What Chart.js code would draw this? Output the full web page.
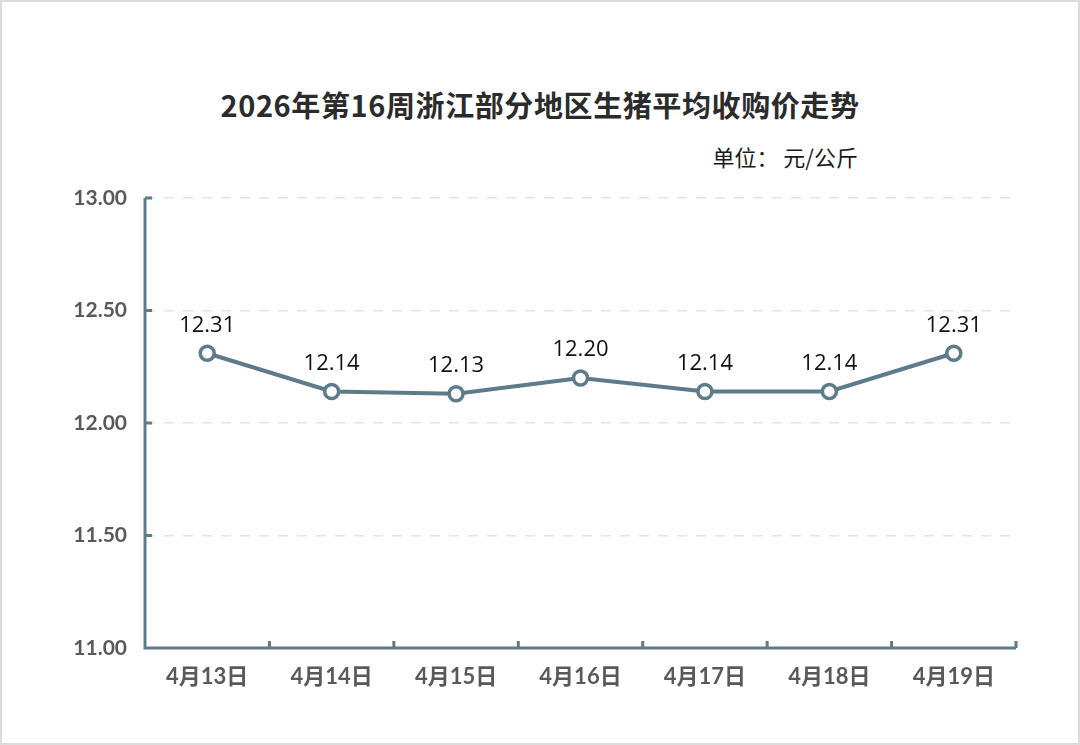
<!DOCTYPE html>
<html>
<head>
<meta charset="utf-8">
<script src="https://cdn.jsdelivr.net/npm/chart.js@4.4.1/dist/chart.umd.min.js"></script>
<style>
  html, body { margin: 0; padding: 0; background: #fff; }
  body { width: 1080px; height: 745px; position: relative; overflow: hidden; }
  .frame { position: absolute; left: 0; top: 0; width: 1076px; height: 741px; border: 2px solid #dcdcdc; }
  .title { position: absolute; left: 0; width: 1080px; top: 83px; text-align: center;
           font: bold 29px "Noto Sans CJK SC", sans-serif; color: #2b2b2b; letter-spacing: 0.6px; }
  .unit { position: absolute; right: 222px; top: 140px;
          font: 22px "Noto Sans CJK SC", sans-serif; color: #1a1a1a; }
  #wrap { position: absolute; left: 0; top: 0; width: 1080px; height: 745px; }
</style>
</head>
<body>
<div class="frame"></div>
<div class="title">2026年第16周浙江部分地区生猪平均收购价走势</div>
<div class="unit">单位：&nbsp;元/公斤</div>
<div id="wrap"><canvas id="priceChart"></canvas></div>
<script>
// 日期与价格（元/公斤）
const dayLabels = ['4月13日', '4月14日', '4月15日', '4月16日', '4月17日', '4月18日', '4月19日'];
const priceValues = [12.31, 12.14, 12.13, 12.20, 12.14, 12.14, 12.31];
const yMin = 11, yMax = 13, yStep = 0.5;

const axisColor = '#5e7b89';

// 自己画坐标轴线和朝内的刻度
const axisPlugin = {
    id: 'axisLines',
    afterDatasetsDraw(chart) {
        const { ctx, chartArea, scales } = chart;
        const x = scales.x, y = scales.y;
        const tick = 7;
        ctx.save();
        ctx.strokeStyle = axisColor;
        ctx.lineWidth = 3;
        ctx.lineCap = 'butt';
        ctx.beginPath();
        ctx.moveTo(chartArea.left, chartArea.top);
        ctx.lineTo(chartArea.left, chartArea.bottom);
        ctx.lineTo(chartArea.right, chartArea.bottom);
        // y 轴刻度
        y.ticks.forEach(t => {
            if (t.value === yMin) return;
            const py = y.getPixelForValue(t.value);
            ctx.moveTo(chartArea.left, py);
            ctx.lineTo(chartArea.left + tick, py);
        });
        // x 轴刻度（类别之间）
        const half = (x.getPixelForValue(1) - x.getPixelForValue(0)) / 2;
        for (let i = 0; i < dayLabels.length; i++) {
            const px = x.getPixelForValue(i) + half;
            ctx.moveTo(px, chartArea.bottom);
            ctx.lineTo(px, chartArea.bottom - tick);
        }
        ctx.stroke();
        ctx.restore();
    }
};

// 数据标签
const labelPlugin = {
    id: 'pointLabels',
    afterDatasetsDraw(chart) {
        const { ctx } = chart;
        const meta = chart.getDatasetMeta(0);
        ctx.save();
        ctx.font = '22px "Open Sans", "Noto Sans", sans-serif';
        ctx.fillStyle = '#111';
        ctx.textAlign = 'center';
        ctx.textBaseline = 'middle';
        meta.data.forEach((pt, i) => {
            ctx.fillText(priceValues[i].toFixed(2), pt.x, pt.y - 28);
        });
        ctx.restore();
    }
};

const ctx = document.getElementById('priceChart').getContext('2d');
new Chart(ctx, {
    type: 'line',
    data: {
        labels: dayLabels,
        datasets: [{
            data: priceValues,
            borderColor: axisColor,
            borderWidth: 4,
            pointRadius: 7,
            pointBorderWidth: 3.5,
            pointBackgroundColor: '#fff',
            pointBorderColor: axisColor,
            tension: 0,
            fill: false
        }]
    },
    options: {
        responsive: true,
        maintainAspectRatio: false,
        animation: false,
        layout: { padding: { left: 0, top: 198, right: 64, bottom: 0 } },
        plugins: {
            legend: { display: false },
            tooltip: { enabled: false }
        },
        scales: {
            x: {
                offset: true,
                grid: { display: false, drawTicks: false },
                border: { display: false },
                ticks: {
                    padding: 16,
                    color: '#595959',
                    font: { family: 'Lato, "Noto Sans CJK SC", sans-serif', size: 22, weight: 'bold' },
                    maxRotation: 0
                },
                afterFit(scale) { scale.height = 97; }
            },
            y: {
                min: yMin,
                max: yMax,
                grid: {
                    color: '#e4e4e4',
                    lineWidth: 1.5,
                    drawTicks: false
                },
                border: { display: false, dash: [10, 9] },
                ticks: {
                    stepSize: yStep,
                    padding: 18,
                    color: '#595959',
                    font: { family: 'Lato, sans-serif', size: 21, weight: 'bold' },
                    callback: v => v.toFixed(2)
                },
                afterFit(scale) { scale.width = 145; }
            }
        }
    },
    plugins: [axisPlugin, labelPlugin]
});
</script>
</body>
</html>
